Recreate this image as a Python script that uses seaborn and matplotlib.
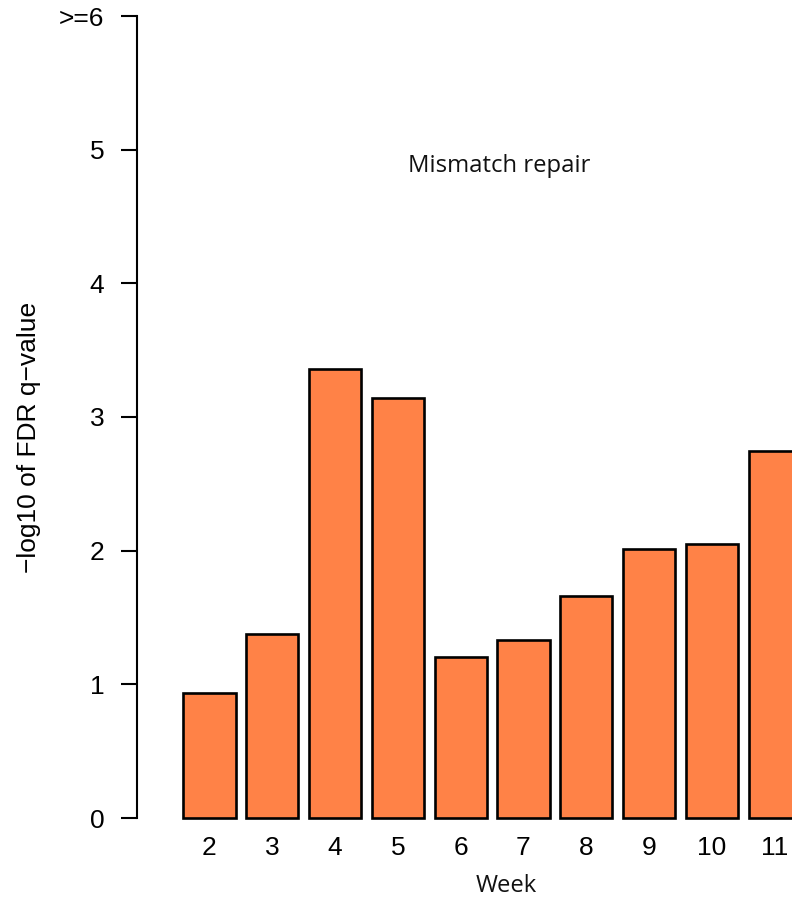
import pandas as pd
import matplotlib
matplotlib.use("Agg")
import matplotlib.pyplot as plt
import seaborn as sns

# ---------- DATA ----------
weeks = ["2", "3", "4", "5", "6", "7", "8", "9", "10", "11"]
neg_log_q = [0.935, 1.376, 3.36, 3.14, 1.204, 1.33, 1.66, 2.01, 2.05, 2.745]
y_ticks = [0, 1, 2, 3, 4, 5, 6]
y_tick_labels = ["0", "1", "2", "3", "4", "5", ">=6"]
pathway = "Mismatch repair"

df = pd.DataFrame({"week": weeks, "value": neg_log_q})

# ---------- STYLE ----------
sns.set_style("white")
plt.rcParams["font.family"] = ["Liberation Sans", "DejaVu Sans"]

fig = plt.figure(figsize=(7.92, 9.02), dpi=100)
W, H = 792, 902
ax = fig.add_axes([137 / W, 1 - 818 / H, (W - 137) / W, (818 - 16) / H])

sns.barplot(data=df, x="week", y="value", order=weeks, color="#FF8247",
            saturation=1, edgecolor="black", linewidth=1.9, width=0.833, ax=ax)
for p in ax.patches:
    p.set_clip_on(False)

ax.set_xlim(-1.154, 9.276)
ax.set_ylim(0, 6)
ax.set_yticks(y_ticks)
ax.set_yticklabels(y_tick_labels)

for s in ["top", "right", "bottom"]:
    ax.spines[s].set_visible(False)
ax.spines["left"].set_bounds(0, 6)
ax.spines["left"].set_linewidth(1.5)
ax.spines["left"].set_color("black")

ax.tick_params(axis="y", length=11.5, width=1.5, pad=12, labelsize=19,
               colors="black", left=True)
ax.tick_params(axis="x", length=0, pad=13, labelsize=19, colors="black")
ax.set_xlabel("")
ax.set_ylabel("")

ax.text(4.61, 4.88, pathway, ha="center", va="center", fontsize=17.2,
        family=["Open Sans", "DejaVu Sans"], color="#111111")
fig.text(506 / W, 1 - 886 / H, "Week", ha="center", va="center", fontsize=17.2,
         family=["Open Sans", "DejaVu Sans"], color="#111111")
fig.text(29 / W, 1 - 437 / H, "\u2212log10 of FDR q\u2212value", rotation=90,
         ha="center", va="center", fontsize=19, color="black")

fig.savefig("out.png", dpi=100)
